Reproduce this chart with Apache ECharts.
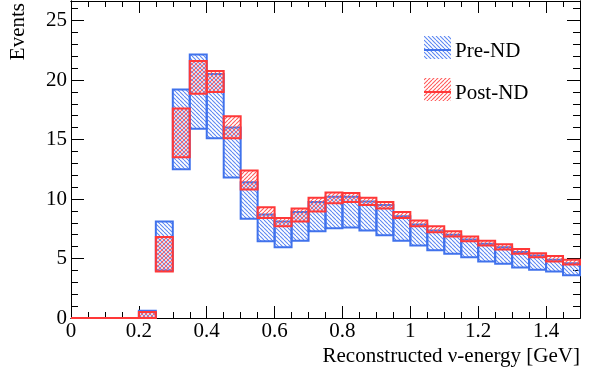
<!DOCTYPE html>
<html>
<head>
<meta charset="utf-8">
<script src="https://cdn.jsdelivr.net/npm/echarts@6/dist/echarts.min.js"></script>
<style>
  html, body { margin: 0; padding: 0; background: #fff; }
  #main { width: 598px; height: 376px; }
</style>
</head>
<body>
<div id="main"></div>
<script>
// bin edges, GeV
const binEdges = [0, 0.05, 0.1, 0.15, 0.2, 0.25, 0.3, 0.35, 0.4, 0.45, 0.5, 0.55, 0.6, 0.65, 0.7,
  0.75, 0.8, 0.85, 0.9, 0.95, 1.0, 1.05, 1.1, 1.15, 1.2, 1.25, 1.3, 1.35, 1.4, 1.45, 1.5];

// error bands (low / high) per bin
const preLow = [0, 0, 0, 0, 0, 4.0, 12.5, 15.9, 15.1, 11.8, 8.35, 6.45, 5.95, 6.5, 7.3,
  7.55, 7.6, 7.35, 6.95, 6.5, 6.1, 5.7, 5.4, 5.1, 4.75, 4.55, 4.25, 4.05, 3.9, 3.6];
const preHigh = [0, 0, 0, 0, 0.6, 8.1, 19.2, 22.15, 20.5, 16.0, 11.4, 8.7, 8.1, 8.9, 9.75,
  10.2, 10.2, 9.8, 9.5, 8.55, 7.85, 7.35, 7.0, 6.6, 6.25, 5.95, 5.55, 5.25, 4.9, 4.6];
const postLow = [0, 0, 0, 0, 0, 3.9, 13.5, 18.85, 19.0, 15.1, 10.8, 8.4, 7.7, 8.1, 8.95,
  9.65, 9.75, 9.5, 9.2, 8.4, 7.7, 7.2, 6.85, 6.45, 6.1, 5.75, 5.4, 5.1, 4.75, 4.5];
const postHigh = [0, 0, 0, 0, 0.5, 6.8, 17.6, 21.6, 20.75, 16.95, 12.4, 9.3, 8.4, 9.2, 10.1,
  10.55, 10.5, 10.1, 9.75, 8.9, 8.2, 7.7, 7.3, 6.85, 6.5, 6.2, 5.8, 5.45, 5.2, 4.9];

const xMajorTicks = [0, 0.2, 0.4, 0.6, 0.8, 1, 1.2, 1.4];
const xMinorTicks = [0.05, 0.1, 0.15, 0.25, 0.3, 0.35, 0.45, 0.5, 0.55, 0.65, 0.7, 0.75,
  0.85, 0.9, 0.95, 1.05, 1.1, 1.15, 1.25, 1.3, 1.35, 1.45];
const yMajorTicks = [0, 5, 10, 15, 20, 25];
const yMinorTicks = [1, 2, 3, 4, 6, 7, 8, 9, 11, 12, 13, 14, 16, 17, 18, 19, 21, 22, 23, 24, 26];

const BLUE = '#4072ec';
const RED = '#ff3838';
const FONT = 'Liberation Serif';

// hatch tile: dir 1 = "\\\\", dir -1 = "////"
function hatch(color, dir) {
  const s = 4;
  const c = document.createElement('canvas');
  c.width = s; c.height = s;
  const ctx = c.getContext('2d');
  ctx.strokeStyle = color;
  ctx.lineWidth = 1.1;
  for (let k = -1; k <= 1; k++) {
    ctx.beginPath();
    if (dir > 0) { ctx.moveTo(k * s, 0); ctx.lineTo(k * s + s, s); }
    else { ctx.moveTo(k * s, s); ctx.lineTo(k * s + s, 0); }
    ctx.stroke();
  }
  return { image: c, repeat: 'repeat' };
}
const bluePat = hatch('#5d88f2', 1);
const redPat = hatch('#ff5a5a', -1);

function bandData(lo, hi) {
  return lo.map((v, i) => [binEdges[i], binEdges[i + 1], v, hi[i]]);
}

function bandRenderer(pattern, color) {
  return function (params, api) {
    const p0 = api.coord([api.value(0), api.value(3)]);
    const p1 = api.coord([api.value(1), api.value(2)]);
    return {
      type: 'rect',
      shape: { x: p0[0], y: p0[1], width: p1[0] - p0[0], height: p1[1] - p0[1] },
      style: { fill: p1[1] - p0[1] > 0.5 ? pattern : null, stroke: color, lineWidth: 2 }
    };
  };
}

const YMAX = 26.64;

function xAx(pos, ticks, len, labels) {
  return {
    type: 'value', position: pos, min: 0, max: 1.5,
    axisLine: { show: true, onZero: false, lineStyle: { color: '#000', width: 1 } },
    axisTick: { show: true, inside: true, length: len, customValues: ticks, lineStyle: { color: '#000' } },
    axisLabel: labels ? { show: true, customValues: ticks, margin: 3, color: '#000',
      fontFamily: FONT, fontSize: 21 } : { show: false },
    splitLine: { show: false }
  };
}
function yAx(pos, ticks, len, labels) {
  return {
    type: 'value', position: pos, min: 0, max: YMAX,
    axisLine: { show: true, onZero: false, lineStyle: { color: '#000', width: 1 } },
    axisTick: { show: true, inside: true, length: len, customValues: ticks, lineStyle: { color: '#000' } },
    axisLabel: labels ? { show: true, customValues: ticks, margin: 4, color: '#000',
      fontFamily: FONT, fontSize: 21 } : { show: false },
    splitLine: { show: false }
  };
}

const chart = echarts.init(document.getElementById('main'), null, { renderer: 'canvas' });

const option = {
  animation: false,
  backgroundColor: '#fff',
  grid: { left: 71, right: 18, top: 1, bottom: 58 },
  xAxis: [
    xAx('bottom', xMajorTicks, 12, true),
    xAx('bottom', xMinorTicks, 6, false),
    xAx('top', xMajorTicks, 12, false),
    xAx('top', xMinorTicks, 6, false)
  ],
  yAxis: [
    yAx('left', yMajorTicks, 13, true),
    yAx('left', yMinorTicks, 7, false),
    yAx('right', yMajorTicks, 13, false),
    yAx('right', yMinorTicks, 7, false)
  ],
  series: [
    {
      name: 'Pre-ND', type: 'custom', xAxisIndex: 0, yAxisIndex: 0,
      renderItem: bandRenderer(bluePat, BLUE),
      encode: { x: [0, 1], y: [2, 3] },
      data: bandData(preLow, preHigh), z: 2
    },
    {
      name: 'Post-ND', type: 'custom', xAxisIndex: 0, yAxisIndex: 0,
      renderItem: bandRenderer(redPat, RED),
      encode: { x: [0, 1], y: [2, 3] },
      data: bandData(postLow, postHigh), z: 3
    }
  ],
  graphic: [
    // legend
    { type: 'rect', shape: { x: 424, y: 36, width: 27, height: 23 }, style: { fill: bluePat } },
    { type: 'line', shape: { x1: 424, y1: 50, x2: 451, y2: 50 }, style: { stroke: BLUE, lineWidth: 2 } },
    { type: 'text', x: 455, y: 51, style: { text: 'Pre-ND', fontFamily: FONT, fontSize: 21,
      fill: '#000', verticalAlign: 'middle' } },
    { type: 'rect', shape: { x: 424, y: 78, width: 27, height: 23 }, style: { fill: redPat } },
    { type: 'line', shape: { x1: 424, y1: 92, x2: 451, y2: 92 }, style: { stroke: RED, lineWidth: 2 } },
    { type: 'text', x: 455, y: 93, style: { text: 'Post-ND', fontFamily: FONT, fontSize: 21,
      fill: '#000', verticalAlign: 'middle' } },
    // axis titles
    { type: 'text', x: 580, y: 356, style: { text: 'Reconstructed ν-energy [GeV]', fontFamily: FONT,
      fontSize: 21, fill: '#000', align: 'right', verticalAlign: 'middle' } },
    { type: 'text', x: 18, y: 3, rotation: Math.PI / 2, style: { text: 'Events', fontFamily: FONT,
      fontSize: 21, fill: '#000', align: 'right', verticalAlign: 'middle' } }
  ]
};

chart.setOption(option);
</script>
</body>
</html>
